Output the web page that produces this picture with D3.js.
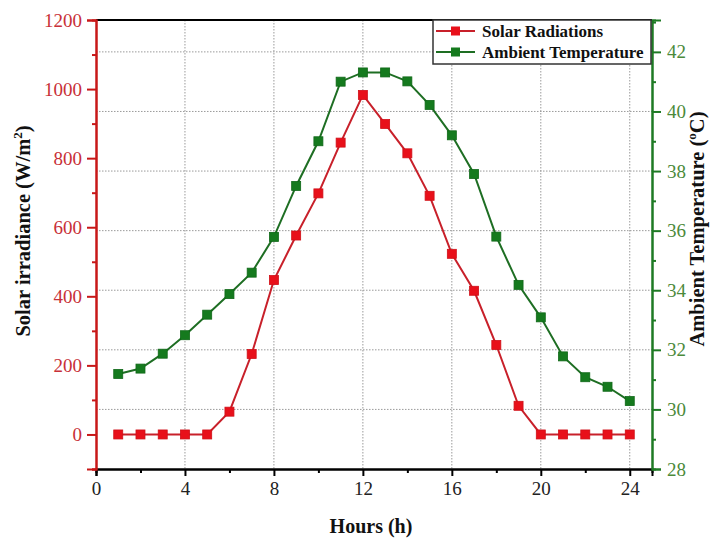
<!DOCTYPE html>
<html>
<head>
<meta charset="utf-8">
<script src="https://cdn.jsdelivr.net/npm/d3@7"></script>
<style>
  html, body { margin: 0; padding: 0; background: #fff; }
  svg { display: block; }
</style>
</head>
<body>
<svg id="chart" width="718" height="542"></svg>
<script>
// Hourly data
const hours = [1,2,3,4,5,6,7,8,9,10,11,12,13,14,15,16,17,18,19,20,21,22,23,24];
const solarRadiation = [0,0,0,0,0,66,233,447,576,698,845,983,899,814,691,523,416,259,83,0,0,0,0,0];
const ambientTemp = [31.19,31.37,31.87,32.49,33.18,33.87,34.59,35.79,37.5,39.0,41.0,41.31,41.31,41.01,40.22,39.2,37.9,35.8,34.18,33.09,31.78,31.08,30.76,30.28];

const xTicks = [0,4,8,12,16,20,24];
const leftTicks = [0,200,400,600,800,1000,1200];
const rightTicks = [28,30,32,34,36,38,40,42];
const seriesNames = ["Solar Radiations", "Ambient Temperature"];

const RED = "#e8101a", RED_LINE = "#c8202a", RED_TEXT = "#c83038";
const GREEN = "#157a1e", GREEN_LINE = "#1e6e23", GREEN_TEXT = "#4b8a3a";
const FONT = "'Liberation Serif', 'Times New Roman', serif";

const svg = d3.select("#chart");
const L = 96, R = 652, T = 20, B = 469;

const x = d3.scaleLinear().domain([0, 25]).range([L, R]);
const yL = d3.scaleLinear().domain([-100, 1200]).range([B, T]);
const yR = d3.scaleLinear().domain([28, 43.07]).range([B, T]);

// grid
const grid = svg.append("g").attr("stroke", "#9a9a9a").attr("stroke-width", 1).attr("stroke-dasharray", "1.5,1.5");
grid.selectAll("line.v").data(xTicks.filter(d => d > 0)).join("line")
  .attr("x1", d => x(d)).attr("x2", d => x(d)).attr("y1", T).attr("y2", B);
grid.selectAll("line.h").data(rightTicks.filter(d => d > 28)).join("line")
  .attr("x1", L).attr("x2", R).attr("y1", d => yR(d)).attr("y2", d => yR(d));

// lines
const lineSolar = d3.line().x((d, i) => x(hours[i])).y(d => yL(d));
const lineTemp = d3.line().x((d, i) => x(hours[i])).y(d => yR(d));

svg.append("path").datum(solarRadiation).attr("d", lineSolar)
  .attr("fill", "none").attr("stroke", RED_LINE).attr("stroke-width", 2);
svg.append("path").datum(ambientTemp).attr("d", lineTemp)
  .attr("fill", "none").attr("stroke", GREEN_LINE).attr("stroke-width", 2);

const ms = 9;
svg.append("g").selectAll("rect").data(solarRadiation).join("rect")
  .attr("x", (d, i) => x(hours[i]) - ms / 2).attr("y", d => yL(d) - ms / 2)
  .attr("width", ms).attr("height", ms).attr("fill", RED).attr("stroke", "#d01018").attr("stroke-width", 0.8);
svg.append("g").selectAll("rect").data(ambientTemp).join("rect")
  .attr("x", (d, i) => x(hours[i]) - ms / 2).attr("y", d => yR(d) - ms / 2)
  .attr("width", ms).attr("height", ms).attr("fill", GREEN).attr("stroke", "#106818").attr("stroke-width", 0.8);

// top frame
svg.append("line").attr("x1", L).attr("x2", R).attr("y1", T).attr("y2", T)
  .attr("stroke", "#000").attr("stroke-width", 2);

// bottom axis
const xAxis = svg.append("g").attr("transform", `translate(0,${B})`)
  .call(d3.axisBottom(x).tickValues(xTicks).tickSize(7).tickPadding(6).tickFormat(d3.format("d")));
const xMinor = svg.append("g").attr("transform", `translate(0,${B})`)
  .call(d3.axisBottom(x).tickValues([2,6,10,14,18,22]).tickSize(4).tickFormat(""));
[xAxis, xMinor].forEach(g => {
  g.select(".domain").attr("stroke", "#000").attr("stroke-width", 2);
  g.selectAll(".tick line").attr("stroke", "#000").attr("stroke-width", 2);
});
xAxis.selectAll("text").attr("font-family", FONT).attr("font-size", 19).attr("fill", "#222");

// left axis
const yAxisL = svg.append("g").attr("transform", `translate(${L},0)`)
  .call(d3.axisLeft(yL).tickValues(leftTicks).tickSize(9).tickPadding(5).tickFormat(d3.format("d")));
const yMinorL = svg.append("g").attr("transform", `translate(${L},0)`)
  .call(d3.axisLeft(yL).tickValues([-100,100,300,500,700,900,1100]).tickSize(4).tickFormat(""));
[yAxisL, yMinorL].forEach(g => {
  g.select(".domain").attr("stroke", "#c81818").attr("stroke-width", 2);
  g.selectAll(".tick line").attr("stroke", "#c81818").attr("stroke-width", 2);
});
yAxisL.selectAll("text").attr("font-family", FONT).attr("font-size", 19).attr("fill", RED_TEXT);

// right axis
const yAxisR = svg.append("g").attr("transform", `translate(${R},0)`)
  .call(d3.axisRight(yR).tickValues(rightTicks).tickSize(9).tickPadding(6).tickFormat(d3.format("d")));
const yMinorR = svg.append("g").attr("transform", `translate(${R},0)`)
  .call(d3.axisRight(yR).tickValues([29,31,33,35,37,39,41,43]).tickSize(4).tickFormat(""));
[yAxisR, yMinorR].forEach(g => {
  g.select(".domain").attr("stroke", "#1e7a24").attr("stroke-width", 2);
  g.selectAll(".tick line").attr("stroke", "#1e7a24").attr("stroke-width", 2);
});
yAxisR.selectAll("text").attr("font-family", FONT).attr("font-size", 19).attr("fill", GREEN_TEXT);

// axis titles
svg.append("text").attr("x", 371).attr("y", 533).attr("text-anchor", "middle")
  .attr("font-family", FONT).attr("font-weight", "bold").attr("font-size", 20).attr("fill", "#111")
  .text("Hours (h)");

const tl = svg.append("text").attr("transform", "translate(30,231) rotate(-90)").attr("text-anchor", "middle")
  .attr("font-family", FONT).attr("font-weight", "bold").attr("font-size", 20.5).attr("fill", "#111");
tl.append("tspan").text("Solar irradiance (W/m");
tl.append("tspan").attr("dy", -8).attr("font-size", 13).text("2");
tl.append("tspan").attr("dy", 8).text(")");

const tr = svg.append("text").attr("transform", "translate(704,229) rotate(-90)").attr("text-anchor", "middle")
  .attr("font-family", FONT).attr("font-weight", "bold").attr("font-size", 20.5).attr("fill", "#111");
tr.append("tspan").text("Ambient Temperature (");
tr.append("tspan").attr("dy", -8).attr("font-size", 13).text("o");
tr.append("tspan").attr("dy", 8).text("C)");

// legend
const lg = svg.append("g");
lg.append("rect").attr("x", 433).attr("y", 20).attr("width", 218).attr("height", 44)
  .attr("fill", "#fff").attr("stroke", "#333").attr("stroke-width", 1.5);
const legendItems = [
  { name: seriesNames[0], color: RED, line: RED_LINE, y: 31 },
  { name: seriesNames[1], color: GREEN, line: GREEN_LINE, y: 52 }
];
legendItems.forEach(it => {
  lg.append("line").attr("x1", 436).attr("x2", 475).attr("y1", it.y).attr("y2", it.y)
    .attr("stroke", it.line).attr("stroke-width", 2);
  lg.append("rect").attr("x", 455.5 - 4.5).attr("y", it.y - 4.5).attr("width", 9).attr("height", 9)
    .attr("fill", it.color);
  lg.append("text").attr("x", 482).attr("y", it.y + 6)
    .attr("font-family", FONT).attr("font-weight", "bold").attr("font-size", 17).attr("fill", "#111")
    .text(it.name);
});
</script>
</body>
</html>
